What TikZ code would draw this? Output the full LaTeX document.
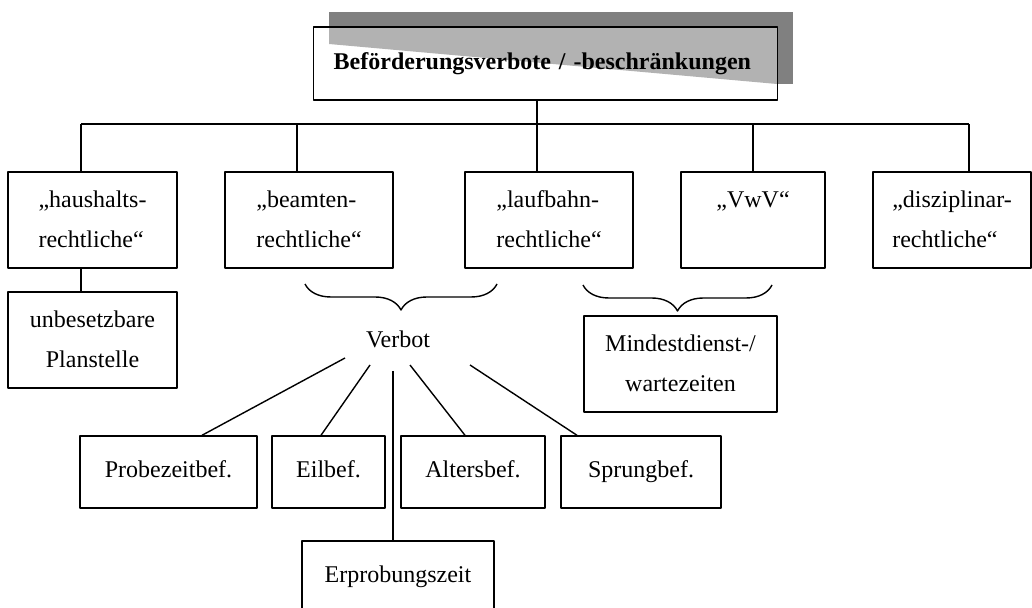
\documentclass[tikz,border=0pt]{standalone}
\usepackage{fontspec}
\setmainfont{Liberation Serif}
\usetikzlibrary{decorations.pathreplacing}

\begin{document}
\begin{tikzpicture}[x=0.5pt, y=-0.5pt, line width=0.7pt, line join=round,
		font=\fontsize{12}{20}\selectfont,
		kasten/.style={draw, inner sep=0pt, minimum height=48pt, text height=30pt, text depth=2pt},
		klein/.style={draw, inner sep=0pt, minimum height=36pt, text height=9pt, text depth=4pt},
		klammer/.style={decorate, decoration={brace, mirror, amplitude=13pt}}]
	\useasboundingbox (0,0) rectangle (1032,608);
	\clip (0,0) rectangle (1032,608);
	% Titel mit Schatten
	\fill[black!50] (329,12) rectangle (793,84);
	\fill[white] (313,27) rectangle (777,100);
	\fill[black!30] (329,27) -- (777,27) -- (777,84) -- (329,44) -- cycle;
	\node[draw, anchor=west, minimum width=232pt, minimum height=36.5pt, inner xsep=10pt, text width=212pt, align=left,
		font=\fontsize{12}{14}\selectfont\bfseries] (titel) at (313,63.5) {Beförderungsverbote / -beschränkungen};
	% obere Reihe
	\node[kasten, minimum width=84.5pt, align=left] (haus) at (92.5,220) {„haushalts-\\rechtliche“};
	\node[kasten, minimum width=84pt, align=left] (beamt) at (309,220) {„beamten-\\rechtliche“};
	\node[kasten, minimum width=84pt, align=left] (lauf) at (549,220) {„laufbahn-\\rechtliche“};
	\node[kasten, minimum width=72pt, align=center] (vwv) at (753,220) {„VwV“\\~};
	\node[kasten, minimum width=79pt, align=left] (diszi) at (952,220) {„disziplinar-\\rechtliche“};
	\node[kasten, minimum width=84.5pt, align=center] (plan) at (92.5,340) {unbesetzbare\\Planstelle};
	\node[kasten, minimum width=96.5pt, align=center] (mind) at (680.5,364) {Mindestdienst-/\\wartezeiten};
	\node (verbot) at (398,339) {Verbot};
	% untere Reihe
	\node[klein, minimum width=88.5pt] (probe) at (168.5,472) {Probezeitbef.};
	\node[klein, minimum width=56.5pt] (eil) at (328.5,472) {Eilbef.};
	\node[klein, minimum width=72pt] (alt) at (473,472) {Altersbef.};
	\node[klein, minimum width=80pt] (spr) at (641,472) {Sprungbef.};
	\node[klein, minimum width=96pt] (erp) at (398,577) {Erprobungszeit};
	% Verbindungen
	\foreach \n/\x in {1/81, 2/297, 3/537, 4/753, 5/969}
		\coordinate (d\n) at (\x,124);
	\draw (titel.south -| d3) -- (d3);
	\draw (d1) -- (d5);
	\foreach \n/\k in {1/haus, 2/beamt, 3/lauf, 4/vwv, 5/diszi}
		\draw (d\n) -- (d\n |- \k.north);
	\draw (d1 |- haus.south) -- (d1 |- plan.north);
	\draw[klammer] (305,284) -- (497,284);
	\draw[klammer] (583,285) -- (772,285);
	\foreach \n/\dx/\dy in {1/-53/19, 2/-28/26, 3/-5/32, 4/12/26, 5/72/26}
		\coordinate (v\n) at ([shift={(\dx,\dy)}]verbot.center);
	\draw (v1) -- ([xshift=16.75pt]probe.north);
	\draw (v2) -- ([xshift=-3.75pt]eil.north);
	\draw (v3) -- (v3 |- erp.north);
	\draw (v4) -- ([xshift=-4pt]alt.north);
	\draw (v5) -- ([xshift=-32pt]spr.north);
\end{tikzpicture}
\end{document}
